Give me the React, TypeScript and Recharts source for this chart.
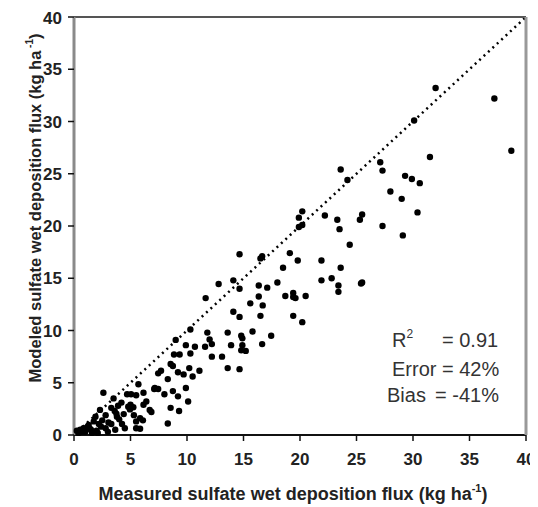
import {
  ScatterChart,
  Scatter,
  XAxis,
  YAxis,
  ReferenceLine,
  Label,
} from "recharts";

// measured (x) and modeled (y) sulfate wet deposition flux, kg/ha
const measured = [
  32.0, 37.2, 38.7, 30.1, 31.5, 27.1, 27.3, 29.3, 29.9, 30.6, 28.0, 29.0, 30.4, 25.5, 25.3, 27.3, 29.1, 25.4, 23.6, 24.2,
  20.2, 19.9, 19.9, 20.2, 22.2, 23.3, 23.5, 24.4, 19.1, 19.8, 21.9, 23.6, 21.9, 22.8, 23.4, 23.4, 25.5, 19.4, 19.4, 19.6,
  20.5, 19.4, 20.2,
  14.65, 16.65, 16.5, 18.5, 18.0, 16.35, 17.1, 14.65, 14.1, 12.8, 11.65, 18.7, 16.35, 15.6, 16.7, 14.65, 16.5, 14.1, 15.8, 17.45,
  14.8, 14.9, 14.9, 16.65, 14.8, 15.2, 14.65, 13.6,
  11.8, 13.6, 10.3, 12.0, 12.2, 11.6, 13.9, 9.9, 10.7, 10.3, 8.85, 9.35, 12.2, 13.1, 9.0, 8.55, 7.7, 7.45, 8.75, 9.2, 9.7,
  10.2, 10.5, 11.1, 8.3, 7.15, 7.45, 8.0, 8.75, 9.2, 9.9, 10.1, 8.55, 9.3, 8.3,
  2.6, 3.5, 5.7, 4.7, 5.05, 5.5, 6.15, 7.1, 5.0, 5.25, 6.15, 6.4, 6.7, 6.85, 5.85, 6.1, 5.85, 3.6, 3.8, 2.8, 2.3, 3.05, 3.3,
  4.25, 4.5, 1.9, 1.75, 2.2, 1.3, 0.85, 0.55, 0.25, 2.8, 3.65, 4.8, 4.95, 3.75, 5.5, 5.5,
  0.4, 1.0, 1.5, 2.0, 1.2, 3.0, 2.5, 4.0, 4.4, 1.6, 2.4, 3.3, 4.2, 5.3, 0.7, 1.4, 2.1, 3.9,
];
const modeled = [
  33.2, 32.2, 27.2, 30.1, 26.6, 26.1, 25.3, 24.8, 24.5, 24.1, 23.3, 22.6, 21.3, 21.1, 20.6, 20.0, 19.1, 14.5, 25.4, 24.4,
  21.4, 20.8, 19.9, 20.1, 21.0, 20.6, 19.7, 18.2, 17.4, 16.7, 16.7, 16.0, 14.8, 15.0, 14.3, 13.7, 14.6, 13.6, 13.2, 13.1,
  13.3, 11.4, 10.8,
  17.3, 17.1, 16.9, 16.0, 14.6, 14.3, 14.1, 14.0, 14.8, 14.45, 13.1, 13.3, 13.25, 12.6, 12.4, 11.3, 11.4, 11.8, 9.9, 9.5,
  9.5, 9.25, 8.6, 8.7, 8.1, 8.05, 6.3, 6.4,
  9.8, 9.8, 10.1, 9.15, 8.7, 8.45, 8.6, 8.6, 8.45, 7.8, 7.7, 7.7, 7.5, 7.5, 9.1, 6.8, 6.15, 5.9, 6.6, 6.0, 5.8,
  6.4, 5.6, 6.15, 5.35, 4.5, 4.4, 3.9, 4.2, 3.7, 4.5, 3.2, 2.6, 2.3, 1.1,
  4.05, 3.5, 4.85, 3.9, 3.9, 3.8, 4.05, 4.4, 2.9, 2.65, 2.9, 3.2, 2.4, 2.2, 1.6, 1.4, 0.6, 2.3, 1.75, 1.9, 2.4, 1.2, 1.05,
  1.05, 0.65, 1.75, 1.3, 1.05, 0.95, 0.65, 0.5, 0.4, 0.65, 0.5, 2.7, 2.45, 2.05, 1.3, 0.65,
  0.2, 0.3, 0.5, 0.4, 0.8, 0.3, 1.4, 1.5, 2.0, 0.2, 0.8, 2.6, 3.1, 1.9, 0.3, 0.6, 0.2, 2.8,
];
const TICKS = [0, 5, 10, 15, 20, 25, 30, 35, 40];

const points = measured.map((x, i) => ({ x, y: modeled[i] }));

const FONT = "'Liberation Sans', Arial, sans-serif";
const tickStyle = { fill: "#222", fontSize: 17, fontWeight: "bold", fontFamily: FONT };

function Dot(props: any) {
  return <circle cx={props.cx} cy={props.cy} r={3.2} fill="#000" />;
}

export default function App() {
  return (
    <div style={{ position: "relative", width: 530, height: 499, fontFamily: FONT }}>
      <ScatterChart width={530} height={499} margin={{ top: 8, right: 11, bottom: 0, left: 0 }}>
        <XAxis
          type="number"
          dataKey="x"
          domain={[0, 40]}
          ticks={TICKS}
          tickSize={6}
          tickMargin={12}
          height={72}
          tick={tickStyle}
          tickLine={{ stroke: "#111", strokeWidth: 1.5 }}
          axisLine={{ stroke: "#111", strokeWidth: 2 }}
        >
          <Label
            content={() => (
              <text x={285} y={492} textAnchor="middle" fontSize={18} fontWeight="bold" fill="#222" fontFamily={FONT}>
                Measured sulfate wet deposition flux (kg ha
                <tspan fontSize={11} dy={-8}>-1</tspan>
                <tspan dy={8}>)</tspan>
              </text>
            )}
          />
        </XAxis>
        <XAxis
          xAxisId="top"
          orientation="top"
          type="number"
          domain={[0, 40]}
          height={1}
          tick={false}
          tickLine={false}
          axisLine={{ stroke: "#555", strokeWidth: 2 }}
        />
        <YAxis
          type="number"
          dataKey="y"
          domain={[0, 40]}
          ticks={TICKS}
          tickSize={6}
          tickMargin={6}
          width={66}
          tick={tickStyle}
          tickLine={{ stroke: "#111", strokeWidth: 1.5 }}
          axisLine={{ stroke: "#8a8a8a", strokeWidth: 3 }}
        >
          <Label
            content={() => (
              <text
                x={33}
                y={200}
                textAnchor="middle"
                fontSize={16.5}
                fontWeight="bold"
                fill="#222"
                fontFamily={FONT}
                transform="rotate(-90 33 200)"
              >
                Modeled sulfate wet deposition flux (kg ha
                <tspan fontSize={10} dy={-8}> -1</tspan>
                <tspan dy={8}>)</tspan>
              </text>
            )}
          />
        </YAxis>
        <YAxis
          yAxisId="right"
          orientation="right"
          type="number"
          domain={[0, 40]}
          width={1}
          tick={false}
          tickLine={false}
          axisLine={{ stroke: "#999", strokeWidth: 3 }}
        />
        <ReferenceLine
          segment={[
            { x: 0, y: 0 },
            { x: 40, y: 40 },
          ]}
          stroke="#000"
          strokeWidth={2.5}
          strokeDasharray="2 4"
        />
        <Scatter data={points} shape={Dot} isAnimationActive={false} />
      </ScatterChart>
      <svg
        width={530}
        height={499}
        style={{ position: "absolute", left: 0, top: 0, pointerEvents: "none" }}
      >
        <g fontFamily={FONT} fontSize={20} fill="#333">
          <text x={384} y={339}>
            R<tspan fontSize={12} dy={-9}>2</tspan>
          </text>
          <text x={434} y={339}>= 0.91</text>
          <text x={384} y={367.7}>Error = 42%</text>
          <text x={379} y={393.7}>Bias</text>
          <text x={427} y={393.7}>= -41%</text>
        </g>
      </svg>
    </div>
  );
}
